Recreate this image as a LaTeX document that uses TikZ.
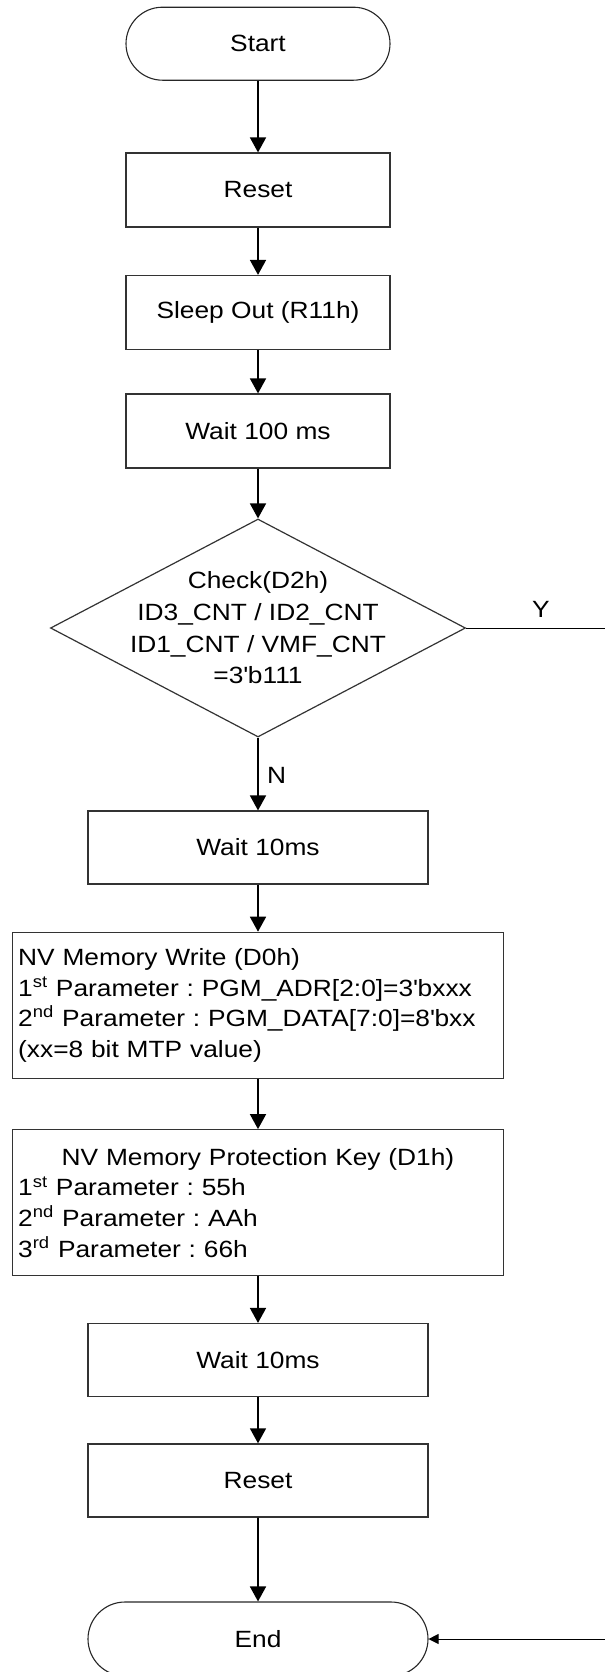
\documentclass[tikz,border=0pt]{standalone}
\usepackage{fontspec}
\setmainfont{Liberation Sans}[FakeStretch=1.12]
\usetikzlibrary{arrows.meta,shapes.geometric,shapes.misc}
\frenchspacing
\begin{document}
\begin{tikzpicture}[x=0.5pt,y=-0.5pt,
  every node/.style={font=\fontsize{11.75}{15.3}\selectfont, inner sep=0pt},
  box/.style={draw=black!80, line width=0.6pt, rectangle, minimum width=132pt, minimum height=37pt},
  widebox/.style={box, minimum width=170pt, minimum height=36.5pt},
  nvbox/.style={box, minimum width=245.4pt, minimum height=73pt, text width=239.8pt, align=left},
  term/.style={draw=black!85, line width=0.55pt, rounded rectangle, minimum width=132pt, minimum height=36.5pt},
  flow/.style={draw=black, line width=0.85pt, -{Triangle[length=7.5pt,width=8pt]}},
  thinflow/.style={draw=black, line width=0.5pt},
]
\useasboundingbox (0,0) rectangle (605,1672);
\clip (0,0) rectangle (605,1672);

\node[term] (start) at (258,43.7) {Start};
\node[box] (reset1) at (258,190) {Reset};
\node[box] (sleep) at (258,312.5) {Sleep Out (R11h)};
\node[box] (wait100) at (258,431) {Wait 100 ms};
\node[diamond, draw=black!80, line width=0.6pt, minimum width=207.5pt, minimum height=109pt] (chk) at (258,628) {};
\node[align=center, font=\fontsize{11.75}{15.85}\selectfont] (chktxt) at (chk.center)
  {Check(D2h)\\ID3\_CNT / ID2\_CNT\\ID1\_CNT / VMF\_CNT\\=3\textquotesingle b111};
\node[widebox] (wait10a) at (258,847.5) {Wait 10ms};
\node[nvbox] (nvw) at (258,1005.3)
  {NV Memory Write (D0h)\\
   1\textsuperscript{st} Parameter : PGM\_ADR[2:0]=3\textquotesingle bxxx\\
   2\textsuperscript{nd} Parameter : PGM\_DATA[7:0]=8\textquotesingle bxx\\
   (xx=8 bit MTP value)};
\node[nvbox] (nvk) at (258,1202.7)
  {\makebox[\linewidth][c]{NV Memory Protection Key (D1h)}\\
   1\textsuperscript{st} Parameter : 55h\\
   2\textsuperscript{nd} Parameter : AAh\\
   3\textsuperscript{rd} Parameter : 66h};
\node[widebox] (wait10b) at (258,1360) {Wait 10ms};
\node[widebox] (reset2) at (258,1480.4) {Reset};
\node[term, minimum width=170pt, minimum height=37pt] (endn) at (258,1639) {End};

\node (ylab) at (541,609) {Y};
\node (nlab) at (276.7,775) {N};

\draw[flow] (start) -- (reset1);
\draw[flow] (reset1) -- (sleep);
\draw[flow] (sleep) -- (wait100);
\draw[flow] (wait100) -- (chk);
\draw[flow] (chk) -- (wait10a);
\draw[flow] (wait10a) -- (nvw);
\draw[flow] (nvw) -- (nvk);
\draw[flow] (nvk) -- (wait10b);
\draw[flow] (wait10b) -- (reset2);
\draw[flow] (reset2) -- (endn);

\coordinate (yout) at (607,628);
\coordinate (yin) at (607,1639);
\draw[thinflow, -{Triangle[length=5pt,width=5pt]}] (chk.east) -- (yout) -- (yin) -- (endn.east);
\end{tikzpicture}
\end{document}
